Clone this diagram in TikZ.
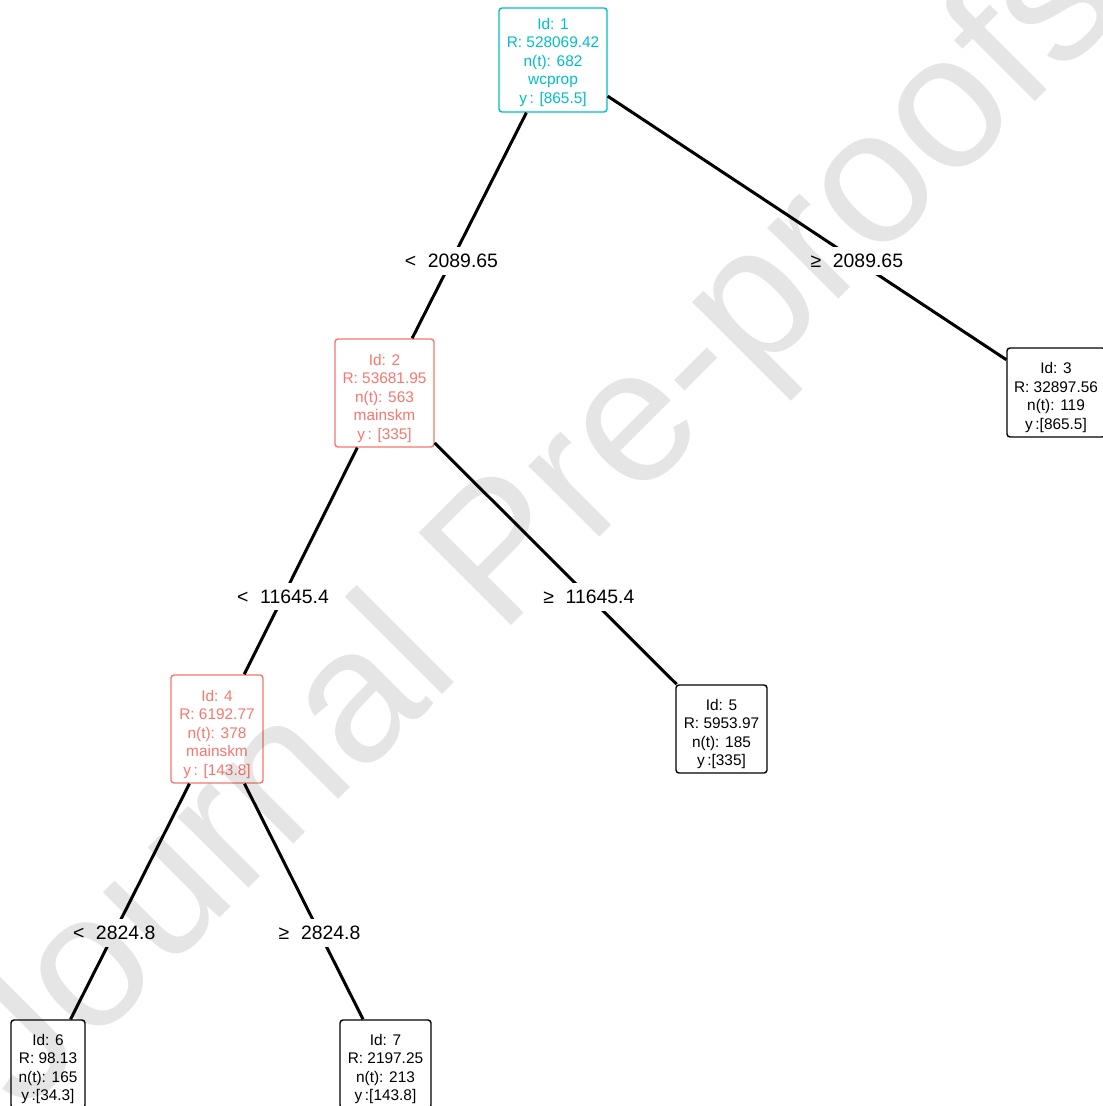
\documentclass[tikz,border=0pt]{standalone}
\usepackage{fontspec}
\setmainfont{Liberation Sans}
\usepackage{xcolor}
\usetikzlibrary{positioning}
\definecolor{splitcyan}{RGB}{0,191,196}
\definecolor{splitred}{RGB}{248,118,109}
\newcommand{\lift}[1][10.6pt]{\rule{0pt}{#1}}
\tikzset{
  leaf/.style={rounded corners=1.5pt, draw=black, line width=0.7pt, align=center, inner sep=0pt, font=\fontsize{7.7}{9.25}\selectfont},
  split/.style={leaf, draw=#1, text=#1},
  cut/.style={fill=white, inner sep=3.5pt, font=\fontsize{9.7}{11}\selectfont},
  branch/.style={line width=1.5pt, draw=black},
  wmark/.style={rotate=45, text=black, text opacity=0.1, inner sep=0pt, font=\fontsize{95}{95}\selectfont},
}

\begin{document}
\begin{tikzpicture}[x=0.5pt, y=-0.5pt]
    \useasboundingbox (0,0) rectangle (1102,1106);
    \node[split=splitcyan, minimum width=54pt, minimum height=52pt] (n1) at (553,60) {\lift[8.1pt]Id: 1\\ R: 528069.42\\ n(t): 682\\ wcprop\\ y\,: [865.5]};
    \node[split=splitred, minimum width=49.5pt, minimum height=54pt] (n2) at (384.5,393) {\lift Id: 2\\ R: 53681.95\\ n(t): 563\\ mainskm\\ y\,: [335]};
    \node[leaf, minimum width=49pt, minimum height=44.5pt] (n3) at (1056,392.5) {\lift Id: 3\\ R: 32897.56\\ n(t): 119\\ y\,:[865.5]};
    \node[split=splitred, minimum width=46pt, minimum height=54pt] (n4) at (217,729) {\lift Id: 4\\ R: 6192.77\\ n(t): 378\\ mainskm\\ y\,: [143.8]};
    \node[leaf, minimum width=45.5pt, minimum height=44pt] (n5) at (721.5,729) {\lift Id: 5\\ R: 5953.97\\ n(t): 185\\ y\,:[335]};
    \node[leaf, minimum width=37pt, minimum height=44pt] (n6) at (48,1064) {\lift Id: 6\\ R: 98.13\\ n(t): 165\\ y\,:[34.3]};
    \node[leaf, minimum width=45.5pt, minimum height=44pt] (n7) at (385.5,1064) {\lift Id: 7\\ R: 2197.25\\ n(t): 213\\ y\,:[143.8]};
    \draw[branch] (n1) -- node[cut, pos=0.656] {<\hspace{0.6em}2089.65} (n2);
    \draw[branch] (n1) -- node[cut, pos=0.625] {≥\hspace{0.6em}2089.65} (n3);
    \draw[branch] (n2) -- node[cut, pos=0.657] {<\hspace{0.6em}11645.4} (n4);
    \draw[branch] (n2) -- node[cut, pos=0.637] {≥\hspace{0.6em}11645.4} (n5);
    \draw[branch] (n4) -- node[cut, pos=0.633] {<\hspace{0.6em}2824.8} (n6);
    \draw[branch] (n4) -- node[cut, pos=0.633] {≥\hspace{0.6em}2824.8} (n7);
    \node[wmark] (wm) at (541,527) {Journal Pre-proofs};
  \end{tikzpicture}
\end{document}
